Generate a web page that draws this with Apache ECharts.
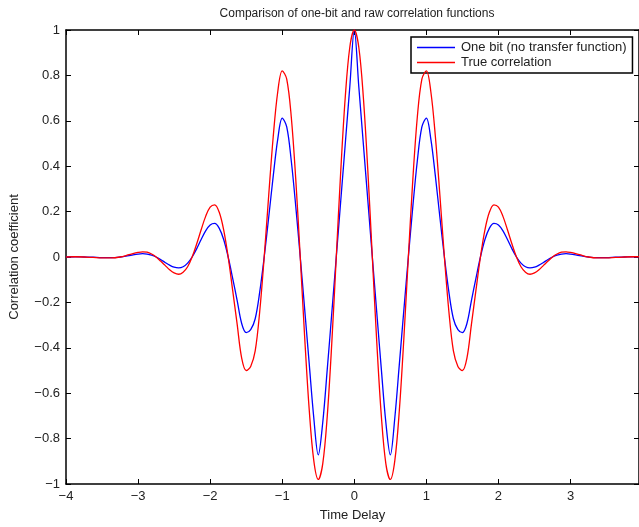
<!DOCTYPE html>
<html>
<head>
<meta charset="utf-8">
<title>Comparison of one-bit and raw correlation functions</title>
<script src="https://cdn.jsdelivr.net/npm/echarts@6/dist/echarts.min.js"></script>
<style>
  html, body { margin: 0; padding: 0; background: #fff; }
  #chart { width: 639px; height: 527px; }
</style>
</head>
<body>
<div id="chart"></div>
<script>
// time delay samples
const timeDelay = [
  -4, -3.875, -3.75, -3.625, -3.5, -3.375, -3.25, -3.125,
  -3, -2.9375, -2.875, -2.8125, -2.75, -2.6875, -2.625, -2.5625,
  -2.5, -2.4375, -2.375, -2.3125, -2.25, -2.1875, -2.125, -2.0625,
  -2, -1.9375, -1.875, -1.8125, -1.75, -1.6875, -1.625, -1.5625,
  -1.5, -1.4375, -1.375, -1.3125, -1.25, -1.1875, -1.125, -1.0625,
  -1, -0.9375, -0.875, -0.8125, -0.75, -0.6875, -0.625, -0.5625,
  -0.5, -0.4375, -0.375, -0.3125, -0.25, -0.1875, -0.125, -0.0625,
  0,
  0.0625, 0.125, 0.1875, 0.25, 0.3125, 0.375, 0.4375, 0.5,
  0.5625, 0.625, 0.6875, 0.75, 0.8125, 0.875, 0.9375, 1,
  1.0625, 1.125, 1.1875, 1.25, 1.3125, 1.375, 1.4375, 1.5,
  1.5625, 1.625, 1.6875, 1.75, 1.8125, 1.875, 1.9375, 2,
  2.0625, 2.125, 2.1875, 2.25, 2.3125, 2.375, 2.4375, 2.5,
  2.5625, 2.625, 2.6875, 2.75, 2.8125, 2.875, 2.9375, 3,
  3.125, 3.25, 3.375, 3.5, 3.625, 3.75, 3.875, 3.95
]

// true (raw) correlation
const trueCorr = [
  0, 0.001, 0, -0.002, -0.004, -0.004, 0, 0.010,
  0.020, 0.023, 0.021, 0.013, 0, -0.018, -0.037, -0.056,
  -0.070, -0.076, -0.067, -0.043, 0, 0.057, 0.120, 0.179,
  0.220, 0.230, 0.198, 0.120, 0, -0.147, -0.297, -0.445,
  -0.500, -0.482, -0.414, -0.241, 0, 0.272, 0.530, 0.727,
  0.820, 0.784, 0.619, 0.344, 0, -0.359, -0.675, -0.896,
  -0.980, -0.910, -0.700, -0.380, 0, 0.382, 0.706, 0.924,
  1,
  0.924, 0.706, 0.382, 0, -0.380, -0.700, -0.910, -0.980,
  -0.896, -0.675, -0.359, 0, 0.344, 0.619, 0.784, 0.820,
  0.727, 0.530, 0.272, 0, -0.241, -0.414, -0.482, -0.500,
  -0.445, -0.297, -0.147, 0, 0.120, 0.198, 0.230, 0.220,
  0.179, 0.120, 0.057, 0, -0.043, -0.067, -0.076, -0.070,
  -0.056, -0.037, -0.018, 0, 0.013, 0.021, 0.023, 0.020,
  0.010, 0, -0.004, -0.004, -0.002, 0, 0.001, 0.001
]

// one bit correlation (no transfer function)
const oneBit = [
  0, 0.001, 0, -0.001, -0.003, -0.003, 0, 0.006,
  0.013, 0.015, 0.013, 0.008, 0, -0.011, -0.024, -0.036,
  -0.045, -0.048, -0.043, -0.027, 0, 0.036, 0.077, 0.115,
  0.141, 0.148, 0.127, 0.077, 0, -0.094, -0.192, -0.293,
  -0.333, -0.320, -0.272, -0.155, 0, 0.175, 0.356, 0.518,
  0.612, 0.573, 0.425, 0.224, 0, -0.234, -0.472, -0.707,
  -0.872, -0.728, -0.494, -0.248, 0, 0.250, 0.500, 0.750,
  1,
  0.750, 0.500, 0.250, 0, -0.248, -0.494, -0.728, -0.872,
  -0.707, -0.472, -0.234, 0, 0.224, 0.425, 0.573, 0.612,
  0.518, 0.356, 0.175, 0, -0.155, -0.272, -0.320, -0.333,
  -0.293, -0.192, -0.094, 0, 0.077, 0.127, 0.148, 0.141,
  0.115, 0.077, 0.036, 0, -0.027, -0.043, -0.048, -0.045,
  -0.036, -0.024, -0.011, 0, 0.008, 0.013, 0.015, 0.013,
  0.006, 0, -0.003, -0.003, -0.001, 0, 0.001, 0.001
]

const xTicks = [-4, -3, -2, -1, 0, 1, 2, 3]
const yTicks = [-1, -0.8, -0.6, -0.4, -0.2, 0, 0.2, 0.4, 0.6, 0.8, 1]

const FONT = '"Liberation Sans", Arial, sans-serif'
const TEXT = '#222'

// matlab style minus sign
const fmt = (v) => String(v).replace('-', '\u2212')

const chart = echarts.init(document.getElementById('chart'))

const pairs = (ys) => timeDelay.map((t, i) => [t, ys[i]])

const axisLine = { show: true, onZero: false, lineStyle: { color: '#000', width: 1.5 } }
const tickIn = { show: true, inside: true, length: 5, lineStyle: { color: '#000', width: 1 } }

const option = {
  animation: false,
  backgroundColor: '#fff',
  title: {
    text: 'Comparison of one-bit and raw correlation functions',
    left: 352,
    textAlign: 'center',
    top: 3,
    textStyle: { fontFamily: FONT, fontSize: 12, fontWeight: 'normal', color: TEXT },
  },
  legend: {
    orient: 'vertical',
    left: 411,
    top: 37,
    padding: [4, 6, 4, 6],
    itemGap: 2,
    itemWidth: 38,
    itemHeight: 1.5,
    icon: 'rect',
    backgroundColor: '#fff',
    borderColor: '#000',
    borderWidth: 1.5,
    borderRadius: 0,
    textStyle: { fontFamily: FONT, fontSize: 13, color: TEXT, padding: [0, 0, 0, 1] },
    data: ['One bit (no transfer function)', 'True correlation'],
  },
  grid: { left: 63, right: -2, top: 30, bottom: 37, containLabel: false },
  xAxis: [
    {
      type: 'value',
      min: -4,
      max: 3.95,
      interval: 1,
      name: 'Time Delay',
      nameLocation: 'middle',
      nameGap: 25,
      nameTextStyle: { fontFamily: FONT, fontSize: 13, color: TEXT },
      axisLine: axisLine,
      axisTick: tickIn,
      splitLine: { show: false },
      axisLabel: {
        fontFamily: FONT,
        fontSize: 13,
        color: TEXT,
        margin: 6,
        showMaxLabel: false,
        formatter: (v) => (xTicks.includes(v) ? fmt(v) : ''),
      },
    },
    {
      type: 'value',
      position: 'top',
      min: -4,
      max: 3.95,
      interval: 1,
      axisLine: axisLine,
      axisTick: tickIn,
      axisLabel: { show: false },
      splitLine: { show: false },
    },
  ],
  yAxis: [
    {
      type: 'value',
      min: -1,
      max: 1,
      interval: 0.2,
      name: 'Correlation coefficient',
      nameLocation: 'middle',
      nameGap: 45,
      nameTextStyle: { fontFamily: FONT, fontSize: 13, color: TEXT },
      axisLine: axisLine,
      axisTick: tickIn,
      splitLine: { show: false },
      axisLabel: {
        fontFamily: FONT,
        fontSize: 13,
        color: TEXT,
        margin: 6,
        formatter: (v) => {
          const r = Math.round(v * 10) / 10
          return yTicks.includes(r) ? fmt(r) : ''
        },
      },
    },
    {
      type: 'value',
      position: 'right',
      min: -1,
      max: 1,
      interval: 0.2,
      axisLine: axisLine,
      axisTick: tickIn,
      axisLabel: { show: false },
      splitLine: { show: false },
    },
  ],
  series: [
    {
      name: 'One bit (no transfer function)',
      type: 'line',
      data: pairs(oneBit),
      smooth: 0.35,
      symbol: 'none',
      color: '#0000ff',
      lineStyle: { color: '#0000ff', width: 1.3 },
      z: 3,
    },
    {
      name: 'True correlation',
      type: 'line',
      data: pairs(trueCorr),
      smooth: 0.35,
      symbol: 'none',
      color: '#ff0000',
      lineStyle: { color: '#ff0000', width: 1.3 },
      z: 4,
    },
  ],
}

chart.setOption(option)
</script>
</body>
</html>
